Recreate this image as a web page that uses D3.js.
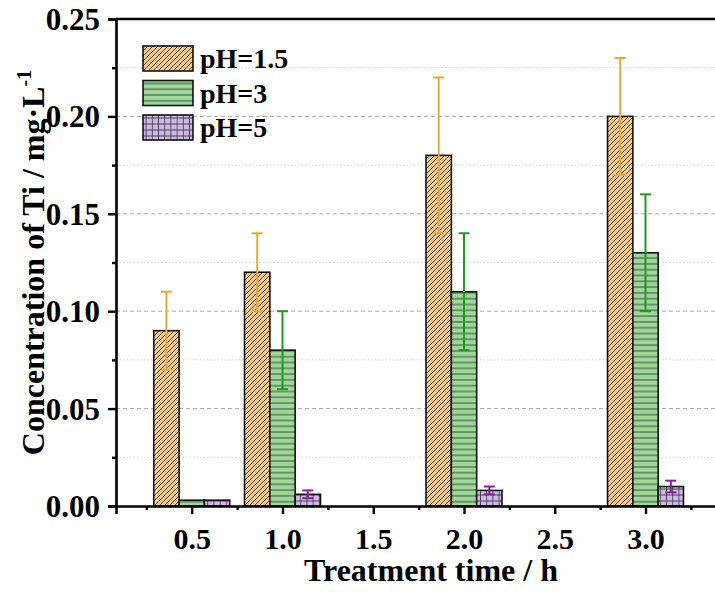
<!DOCTYPE html>
<html>
<head>
<meta charset="utf-8">
<script src="https://cdn.jsdelivr.net/npm/d3@7"></script>
<style>
  html, body { margin: 0; padding: 0; background: #fff; }
  svg { display: block; }
  text { font-family: "Liberation Serif", "Times New Roman", serif; font-weight: bold; fill: #000; }
</style>
</head>
<body>
<svg id="chart" width="715" height="592"></svg>
<script>
// Treatment times (h) with measured groups
const categories = [0.5, 1.0, 2.0, 3.0];
const seriesNames = ["pH=1.5", "pH=3", "pH=5"];

// Ti concentration (mg/L) and error for each pH
const ph15 = [0.09, 0.12, 0.18, 0.20];
const ph15Err = [0.02, 0.02, 0.04, 0.03];
const ph3 = [0.003, 0.08, 0.11, 0.13];
const ph3Err = [0, 0.02, 0.03, 0.03];
const ph5 = [0.003, 0.006, 0.008, 0.010];
const ph5Err = [0, 0.002, 0.002, 0.003];

// Axis ticks
const xTickLabels = ["0.5", "1.0", "1.5", "2.0", "2.5", "3.0"];
const xMinorTicks = [0.25, 0.75, 1.25, 1.75, 2.25, 2.75, 3.25];
const yTicks = [0, 0.05, 0.10, 0.15, 0.20, 0.25];
const yMinorTicks = [0.025, 0.075, 0.125, 0.175, 0.225];

const series = [
  { name: seriesNames[0], values: ph15, errs: ph15Err, pattern: "hatch-orange", errColor: "#E9A935" },
  { name: seriesNames[1], values: ph3,  errs: ph3Err,  pattern: "hatch-green",  errColor: "#1F9A1F" },
  { name: seriesNames[2], values: ph5,  errs: ph5Err,  pattern: "hatch-purple", errColor: "#8A1E9A" }
];

const svg = d3.select("#chart");
const plotLeft = 116, plotTop = 19, plotBottom = 506;

const x = d3.scaleLinear().domain([0.0826, 3.4]).range([plotLeft, plotLeft + (3.4 - 0.0826) * 181.5]);
const y = d3.scaleLinear().domain([0, 0.25]).range([plotBottom, plotTop]);
const barW = 0.1395; // bar width in hours

// Fill patterns
const defs = svg.append("defs");
const pOr = defs.append("pattern").attr("id", "hatch-orange")
  .attr("patternUnits", "userSpaceOnUse").attr("width", 5).attr("height", 5);
pOr.append("rect").attr("width", 5).attr("height", 5).attr("fill", "#FBC88E");
pOr.append("path").attr("d", "M0,5 L5,0 M-1,1 L1,-1 M4,6 L6,4")
  .attr("stroke", "#3a3026").attr("stroke-width", 0.85);

const pGr = defs.append("pattern").attr("id", "hatch-green")
  .attr("patternUnits", "userSpaceOnUse").attr("width", 6).attr("height", 5.8);
pGr.append("rect").attr("width", 6).attr("height", 5.8).attr("fill", "#9DD89A");
pGr.append("path").attr("d", "M0,2.9 L6,2.9")
  .attr("stroke", "#2b3a2b").attr("stroke-width", 0.9);

const pPu = defs.append("pattern").attr("id", "hatch-purple")
  .attr("patternUnits", "userSpaceOnUse").attr("width", 6.2).attr("height", 6);
pPu.append("rect").attr("width", 6.2).attr("height", 6).attr("fill", "#CDB7E3");
pPu.append("path").attr("d", "M0,3 L6.2,3 M3.1,0 L3.1,6")
  .attr("stroke", "#3a3040").attr("stroke-width", 0.8);

// Grid lines
const gridRight = 715;
svg.append("g").selectAll("line").data(yMinorTicks).join("line")
  .attr("x1", plotLeft).attr("x2", gridRight)
  .attr("y1", d => y(d)).attr("y2", d => y(d))
  .attr("stroke", "#d2d2d8").attr("stroke-width", 1).attr("stroke-dasharray", "1.5,2");
svg.append("g").selectAll("line").data(yTicks.filter(d => d > 0 && d < 0.25)).join("line")
  .attr("x1", plotLeft).attr("x2", gridRight)
  .attr("y1", d => y(d)).attr("y2", d => y(d))
  .attr("stroke", "#a8a8a8").attr("stroke-width", 1).attr("stroke-dasharray", "4,3");

// Bars
series.forEach((s, si) => {
  svg.append("g").selectAll("rect").data(categories).join("rect")
    .attr("x", (d) => x(d + (si - 1.5) * barW))
    .attr("width", x(barW) - x(0))
    .attr("y", (d, i) => y(s.values[i]))
    .attr("height", (d, i) => y(0) - y(s.values[i]))
    .attr("fill", `url(#${s.pattern})`)
    .attr("stroke", "#111").attr("stroke-width", 1.6);
});

// Error bars
series.forEach((s, si) => {
  const g = svg.append("g").attr("stroke", s.errColor).attr("stroke-width", 2).attr("fill", "none");
  categories.forEach((c, i) => {
    if (!s.errs[i]) return;
    const cx = x(c + (si - 1) * barW);
    const y1 = y(s.values[i] + s.errs[i]);
    const y0 = y(s.values[i] - s.errs[i]);
    g.append("line").attr("x1", cx).attr("x2", cx).attr("y1", y1).attr("y2", y0);
    g.append("line").attr("x1", cx - 5.5).attr("x2", cx + 5.5).attr("y1", y1).attr("y2", y1);
    g.append("line").attr("x1", cx - 5.5).attr("x2", cx + 5.5).attr("y1", y0).attr("y2", y0);
  });
});

// Top frame line
svg.append("line").attr("x1", plotLeft).attr("x2", gridRight)
  .attr("y1", plotTop).attr("y2", plotTop).attr("stroke", "#000").attr("stroke-width", 2.6);

// Y axis
const yAxis = d3.axisLeft(y).tickValues(yTicks).tickSize(8).tickPadding(8)
  .tickFormat(d3.format(".2f"));
const gy = svg.append("g").attr("transform", `translate(${plotLeft},0)`).call(yAxis);
gy.select(".domain").attr("stroke-width", 2.6);
gy.selectAll(".tick line").attr("stroke-width", 2.4);
gy.selectAll(".tick text").attr("font-size", 31).attr("font-family", null).attr("dy", "0.34em");
svg.append("g").attr("transform", `translate(${plotLeft},0)`)
  .call(d3.axisLeft(y).tickValues(yMinorTicks).tickSize(4).tickFormat(""))
  .call(g => g.select(".domain").remove())
  .selectAll(".tick line").attr("stroke-width", 2.4);

// X axis
const xAxis = d3.axisBottom(x).tickValues(xTickLabels.map(Number)).tickSize(8).tickPadding(14)
  .tickFormat((d, i) => xTickLabels[i]);
const gx = svg.append("g").attr("transform", `translate(0,${plotBottom})`).call(xAxis);
gx.select(".domain").attr("stroke-width", 2.6);
gx.selectAll(".tick line").attr("stroke-width", 2.4);
gx.selectAll(".tick text").attr("font-size", 30).attr("font-family", null).attr("dy", "0.71em");
svg.append("g").attr("transform", `translate(0,${plotBottom})`)
  .call(d3.axisBottom(x).tickValues(xMinorTicks).tickSize(4).tickFormat(""))
  .call(g => g.select(".domain").remove())
  .selectAll(".tick line").attr("stroke-width", 2.4);

// Axis titles
svg.append("text").attr("x", 431).attr("y", 581)
  .attr("text-anchor", "middle").attr("font-size", 32).text("Treatment time / h");

const yt = svg.append("text")
  .attr("transform", `translate(44,${(plotTop + plotBottom) / 2}) rotate(-90)`)
  .attr("text-anchor", "middle").attr("font-size", 32);
yt.append("tspan").text("Concentration of Ti / mg·L");
yt.append("tspan").attr("font-size", 20).attr("dy", -13).text("-1");

// Legend
const legend = svg.append("g").attr("transform", "translate(143,46)");
series.forEach((s, i) => {
  const row = legend.append("g").attr("transform", `translate(0,${i * 34.5})`);
  row.append("rect").attr("width", 50).attr("height", 25)
    .attr("fill", `url(#${s.pattern})`).attr("stroke", "#111").attr("stroke-width", 1.6);
  row.append("text").attr("x", 57).attr("y", 22).attr("font-size", 28).text(s.name);
});
</script>
</body>
</html>
